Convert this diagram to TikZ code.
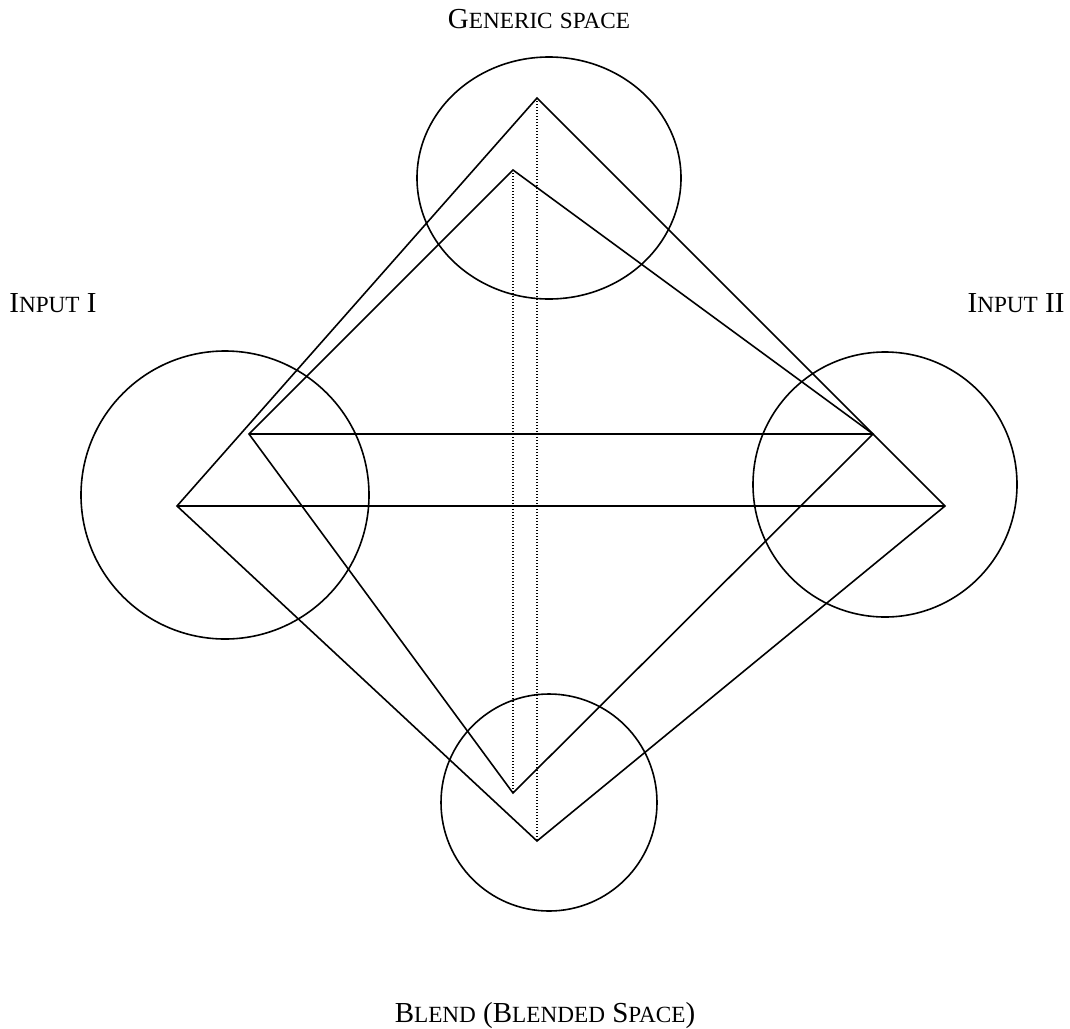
\documentclass[tikz,border=0pt]{standalone}
\usepackage{fontspec}
\setmainfont{Liberation Serif}
\usetikzlibrary{shapes.geometric}
\newcommand{\lblfont}{\fontsize{29}{32}\selectfont}
\newcommand{\smc}[1]{{\fontsize{23.2}{26}\selectfont #1}}
\tikzset{
  space/.style={draw, ellipse, line width=1.6pt, inner sep=0pt},
  link/.style={line width=1.6pt, line join=miter},
  guide/.style={line width=1.2pt, dash pattern=on 1.2pt off 1.8pt},
  lbl/.style={anchor=base, inner sep=0pt, font=\lblfont}
}
\begin{document}
\begin{tikzpicture}[x=1pt, y=-1pt]
\useasboundingbox (0,0) rectangle (1070,1028);
\node[space, minimum width=264pt, minimum height=242pt] (gen) at (549,178) {};
\node[space, minimum width=288pt, minimum height=288pt] (inA) at (225,495) {};
\node[space, minimum width=264pt, minimum height=265pt] (inB) at (885,484.5) {};
\node[space, minimum width=216pt, minimum height=217pt] (bl) at (549,802.5) {};
\coordinate (T1) at (537,98);
\coordinate (L1) at (177,506);
\coordinate (B1) at (537,841);
\coordinate (R1) at (945,506);
\coordinate (T2) at (513,170);
\coordinate (L2) at (249,434);
\coordinate (B2) at (513,793);
\coordinate (R2) at (873,434);
\draw[link] (L1) -- (T1) -- (R1) -- (B1) -- cycle;
\draw[link] (L1) -- (R1);
\draw[link] (L2) -- (T2) -- (R2) -- (B2) -- cycle;
\draw[link] (L2) -- (R2);
\draw[guide] (T1) -- (B1);
\draw[guide] (T2) -- (B2);
\node[lbl] (tgen) at (539,28) {G\smc{ENERIC} \smc{SPACE}};
\node[lbl] (tinA) at (53,312) {I\smc{NPUT} I};
\node[lbl] (tinB) at (1016,312) {I\smc{NPUT} II};
\node[lbl] (tbl) at (545,1022) {B\smc{LEND} (B\smc{LENDED} S\smc{PACE})};
\end{tikzpicture}
\end{document}
